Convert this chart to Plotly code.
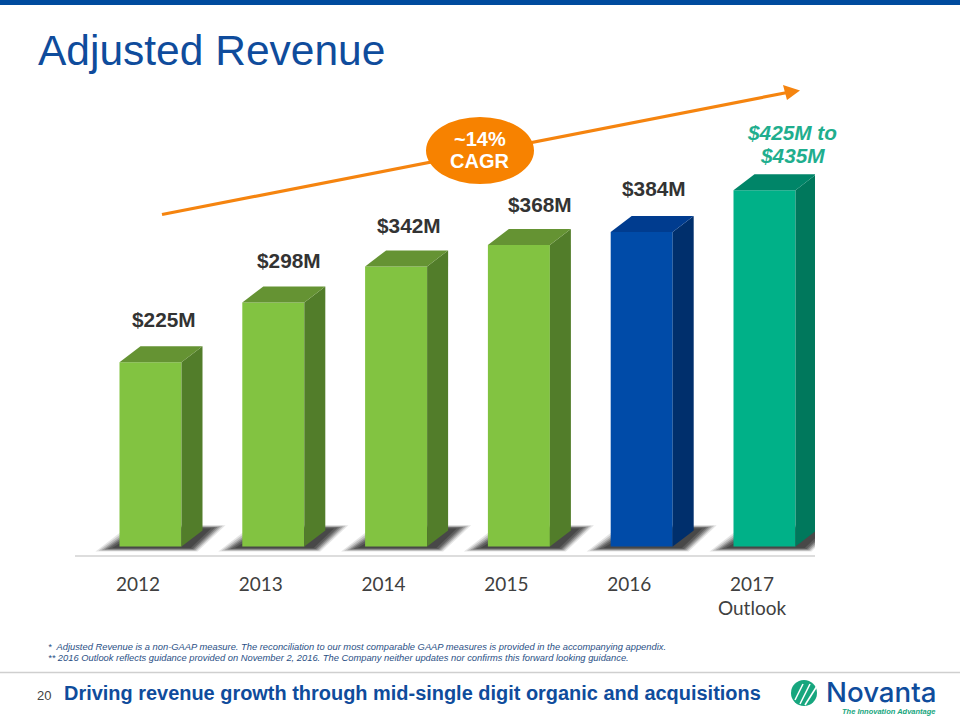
import plotly.graph_objects as go

# ---- data ----
years = ["2012", "2013", "2014", "2015", "2016", "2017<br>Outlook"]
revenue = [225, 298, 342, 368, 384, 435]
value_labels = ["$225M", "$298M", "$342M", "$368M", "$384M", "$425M to<br>$435M"]

# ---- styles ----
FRONT = ["#82C341"] * 4 + ["#004BA8", "#00B188"]
SIDE = ["#527D2A"] * 4 + ["#002F6C", "#00785C"]
TOP = ["#659333"] * 4 + ["#003C8F", "#008568"]
LABEL_COL = ["#333333"] * 5 + ["#1FAE8E"]
LABEL_DX = [26, 28, 25, 34, 25, 40]   # px from tick
LABEL_DY = [43, 42, 41, 41, 44, 43]   # px above bar top
NAVY = "#0F4C9C"
ORANGE = "#F5840F"
FONT = "Liberation Sans"

# ---- plot frame (px) ----
L, R, T, B = 75, 815, 80, 555
PX_X = 122.8                # px per category
PX_Y = 475 / 580            # px per $M
BAR_W = 62 / PX_X
BAR_OFF = (119.5 - 138) / PX_X
DX = 21 / PX_X              # depth of 3D faces
DY = 16 / PX_Y
pos = list(range(len(years)))


def px(x):
    return (x - L) / (R - L)


def py(y):
    return (B - y) / (B - T)


def upath(pts):
    return "M" + " L".join(f"{px(a):.5f},{py(b):.5f}" for a, b in pts) + " Z"


fig = go.Figure()

# front faces
fig.add_trace(go.Bar(x=pos, y=revenue, width=BAR_W, offset=BAR_OFF,
                     marker=dict(color=FRONT, line=dict(width=0)), hoverinfo="skip"))

# side and top faces derived from the values
for i, v in enumerate(revenue):
    x0 = i + BAR_OFF
    x1 = x0 + BAR_W
    fig.add_trace(go.Scatter(x=[x1, x1 + DX, x1 + DX, x1, x1], y=[0, DY, v + DY, v, 0],
                             mode="lines", fill="toself", fillcolor=SIDE[i],
                             line=dict(width=0), hoverinfo="skip"))
    fig.add_trace(go.Scatter(x=[x0, x1, x1 + DX, x0 + DX, x0], y=[v, v, v + DY, v + DY, v],
                             mode="lines", fill="toself", fillcolor=TOP[i],
                             line=dict(width=0), hoverinfo="skip"))

shapes = []
# ground shadows (layered to suggest blur)
for i, v in enumerate(revenue):
    x0 = i + BAR_OFF
    for inset, alpha in [(0, 0.12), (2, 0.18), (4, 0.24), (6, 0.30), (8, 0.34), (11, 0.38)]:
        ins = inset / PX_X
        insy = inset * 0.3 / PX_Y
        xa = x0 - 24 / PX_X + ins * 1.5
        xb = x0 + 78 / PX_X - ins * 0.6
        xc = x0 + 106 / PX_X - ins * 1.3
        xd = x0 + 10 / PX_X + ins * 1.3
        yb = -6 + insy
        yt = 26 - insy
        path = f"M{xa:.4f},{yb:.3f} L{xb:.4f},{yb:.3f} L{xc:.4f},{yt:.3f} L{xd:.4f},{yt:.3f} Z"
        shapes.append(dict(type="path", xref="x", yref="y", path=path, layer="below",
                           fillcolor=f"rgba(40,40,40,{alpha})", line=dict(width=0)))

paper = dict(xref="paper", yref="paper")
# header band, footer rule
shapes.append(dict(type="rect", **paper, x0=px(0), x1=px(960), y0=py(0), y1=py(5),
                   fillcolor="#004B9E", line=dict(width=0)))
shapes.append(dict(type="line", **paper, x0=px(0), x1=px(960), y0=py(672.5), y1=py(672.5),
                   line=dict(color="#CFCFCF", width=1.5)))
# trend arrow
shapes.append(dict(type="line", **paper, x0=px(162), x1=px(790), y0=py(214.5), y1=py(92),
                   line=dict(color=ORANGE, width=3.2)))
shapes.append(dict(type="path", **paper, path=upath([(800, 90.5), (783, 85), (787, 100)]),
                   fillcolor=ORANGE, line=dict(width=0)))
shapes.append(dict(type="circle", **paper, x0=px(426), x1=px(534), y0=py(184), y1=py(117),
                   fillcolor="#F78200", line=dict(width=0)))
# logo mark
shapes.append(dict(type="circle", **paper, x0=px(791), x1=px(817), y0=py(706), y1=py(680),
                   fillcolor="#17A67E", line=dict(width=0)))
for k, (a, b, c) in enumerate([(795, 700, 682), (800, 704, 682), (805, 705, 684)]):
    shapes.append(dict(type="line", **paper, x0=px(a), x1=px(a + 8 + k * 2), y0=py(b), y1=py(c + 2),
                       line=dict(color="white", width=1.6)))


def note(text, x, y, size, color, bold=False, italic=False, anchor="left", family=FONT, weight=None):
    if bold:
        text = f"<b>{text}</b>"
    if italic:
        text = f"<i>{text}</i>"
    font = dict(family=family, size=size, color=color)
    if weight:
        font["weight"] = weight
    return dict(text=text, xref="paper", yref="paper", x=px(x), y=py(y), showarrow=False,
                xanchor=anchor, yanchor="middle", align="center" if anchor == "center" else "left",
                font=font)


annotations = [
    note("Adjusted Revenue", 36, 50, 42.5, NAVY),
    note("~14%", 480, 139, 20, "white", bold=True, anchor="center"),
    note("CAGR", 480, 161, 20, "white", bold=True, anchor="center"),
    note("*  Adjusted Revenue is a non-GAAP measure. The reconciliation to our most comparable GAAP "
         "measures is provided in the accompanying appendix.", 46, 647, 9.35, "#2A4F85", italic=True),
    note("** 2016 Outlook reflects guidance provided on November 2, 2016. The Company neither updates "
         "nor confirms this forward looking guidance.", 46, 658, 9.35, "#2A4F85", italic=True),
    note("20", 35, 695, 13, "#444444"),
    note("Driving revenue growth through mid-single digit organic and acquisitions", 62, 693, 19.95,
         NAVY, bold=True),
    note("Novanta", 824, 692, 27.7, "#0F4C9C", family="Inter", weight=500),
    note("The Innovation Advantage", 937, 712, 7.5, "#17A67E", bold=True, italic=True, anchor="right"),
]
for i, (v, t) in enumerate(zip(revenue, value_labels)):
    lines = t.split("<br>")
    for k, line in enumerate(lines):
        txt = f"<b><i>{line}</i></b>" if i == 5 else f"<b>{line}</b>"
        annotations.append(dict(text=txt, x=i + LABEL_DX[i] / PX_X, y=v, xref="x", yref="y",
                                yshift=LABEL_DY[i] + 23 * (len(lines) - 1 - k) - 8 * (len(lines) > 1),
                                showarrow=False,
                                font=dict(family=FONT, size=20.8, color=LABEL_COL[i])))

fig.update_layout(
    width=960, height=720, autosize=False, showlegend=False,
    paper_bgcolor="white", plot_bgcolor="white",
    margin=dict(l=L, r=960 - R, t=T, b=720 - B, pad=0),
    shapes=shapes, annotations=annotations,
    xaxis=dict(range=[(L - 138) / PX_X, (R - 138) / PX_X], tickmode="array", tickvals=pos,
               ticktext=years, showgrid=False, zeroline=False, showline=True,
               linecolor="#DDDDDD", linewidth=1.5, ticks="", ticklen=0, ticklabelstandoff=11,
               tickfont=dict(family="Lato", size=19, color="#404040")),
    yaxis=dict(range=[-10.4, 569.6], visible=False, showgrid=False, zeroline=False),
)

fig.write_html("out.html", config=dict(displayModeBar=False),
               post_script="document.body.style.margin='0';document.documentElement.style.overflow='hidden';")
